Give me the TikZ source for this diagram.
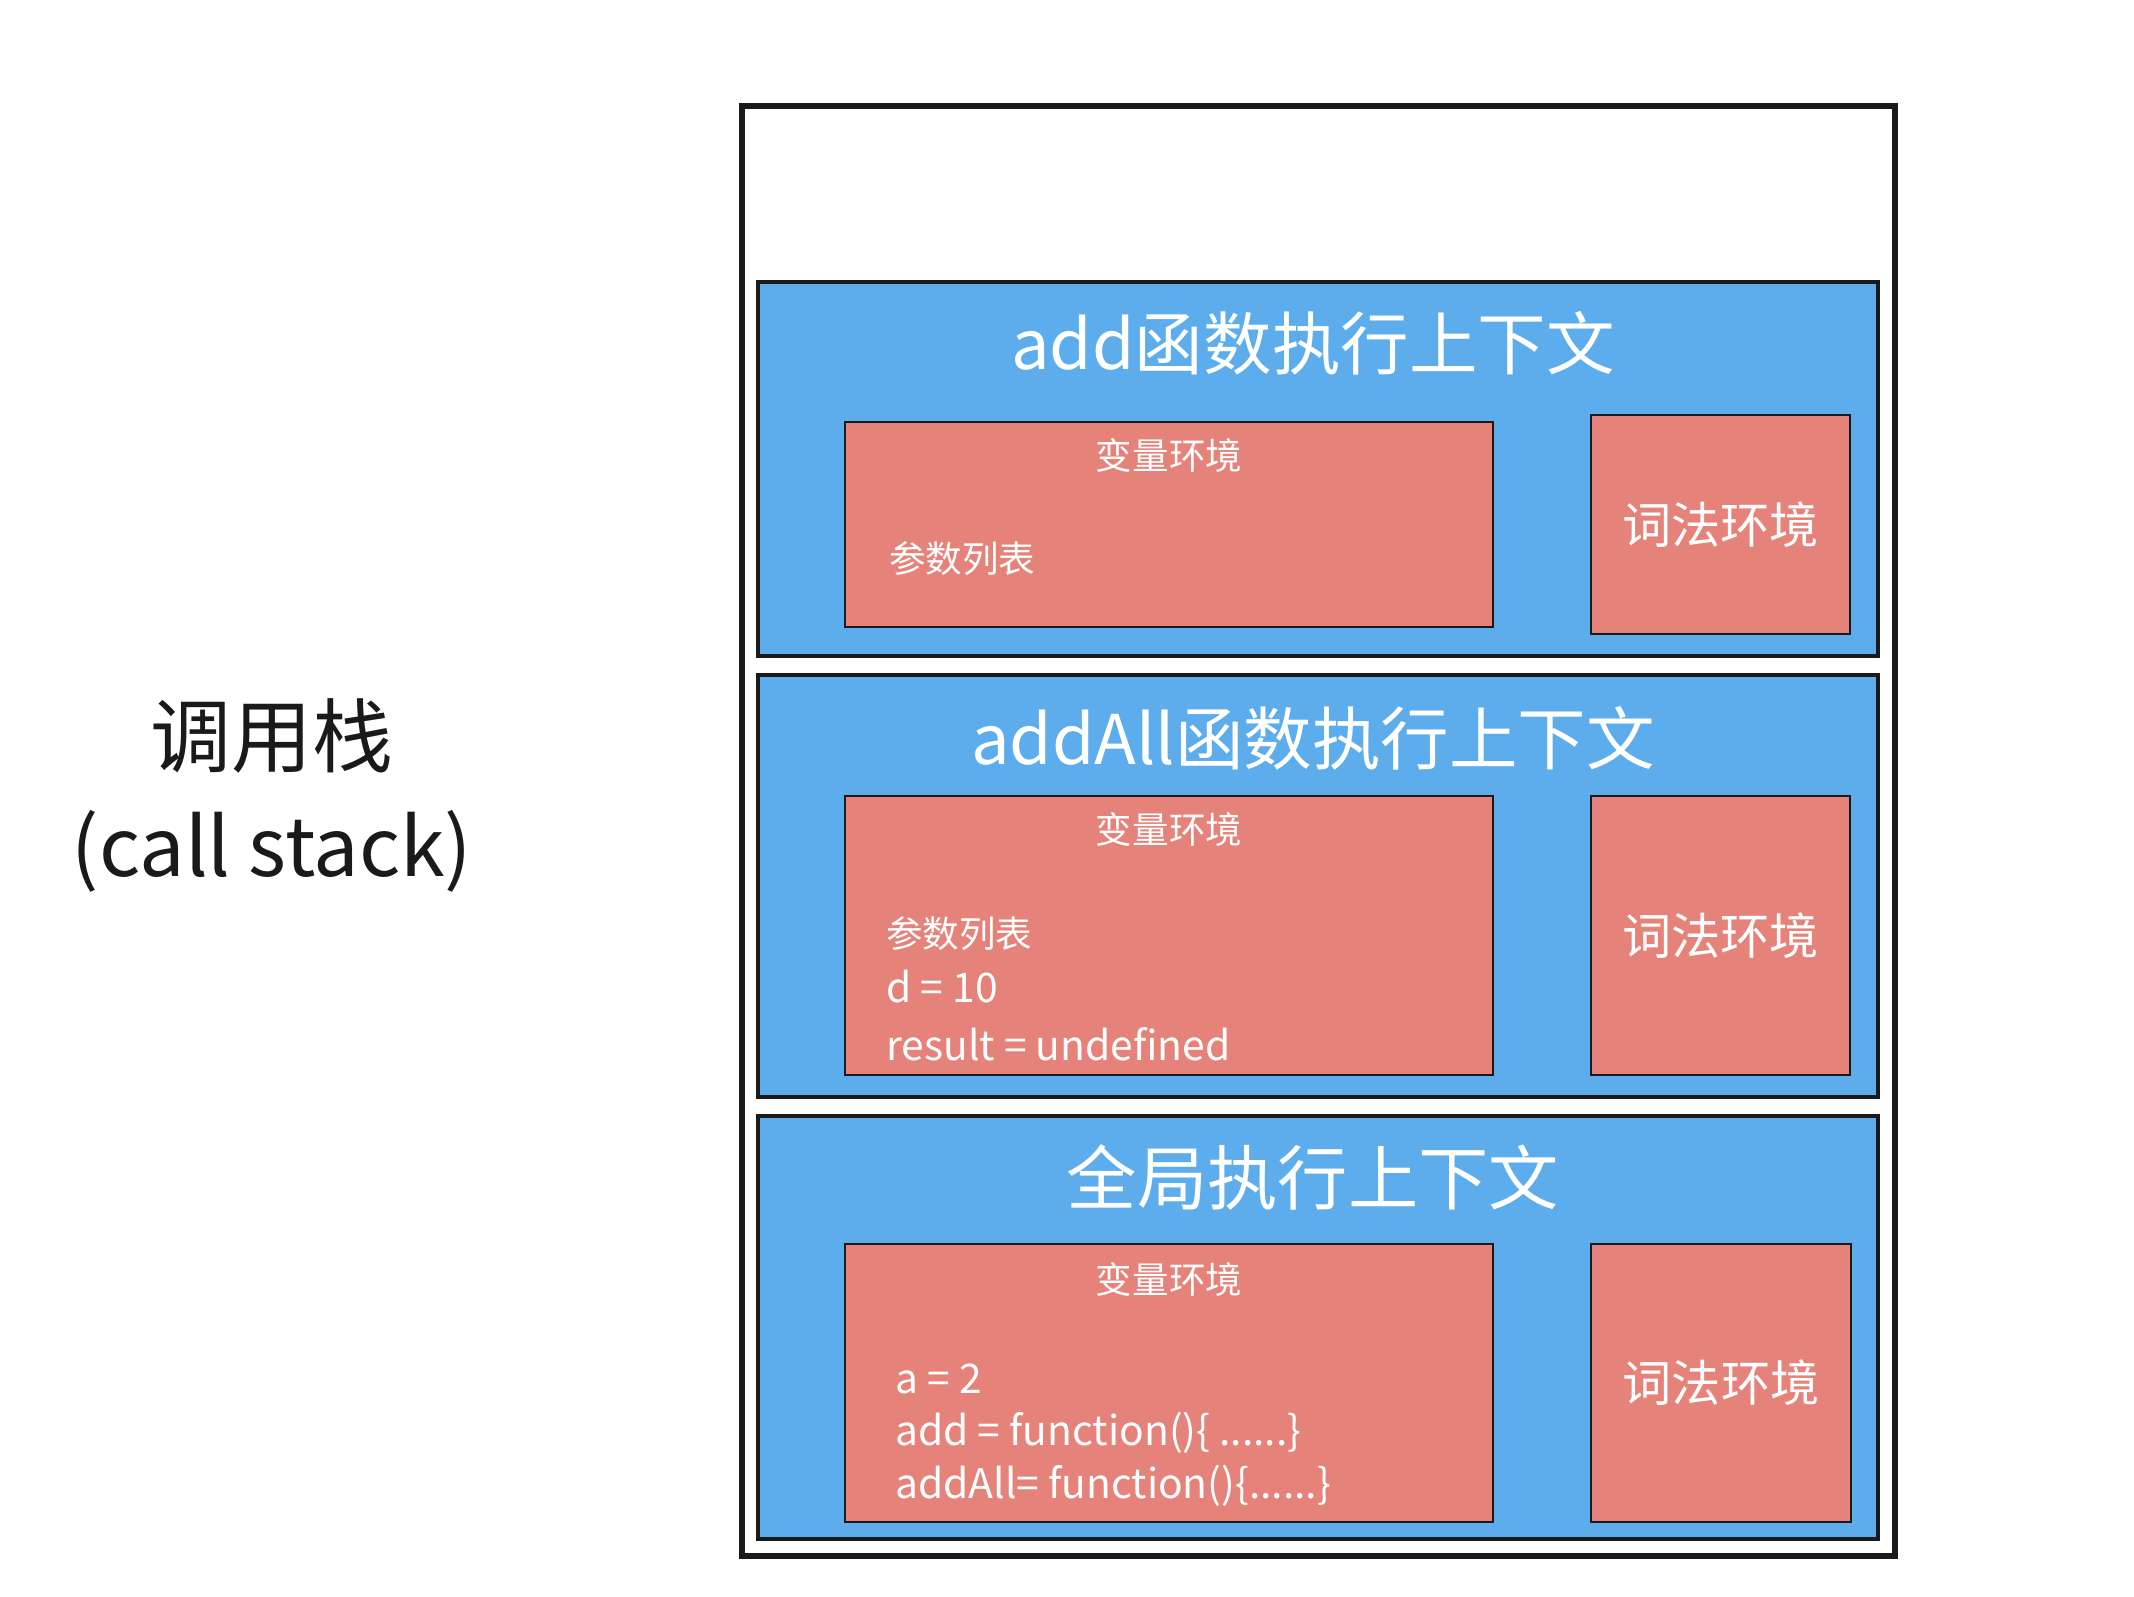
\documentclass[tikz,border=0pt]{standalone}
\usepackage{fontspec}
\setmainfont{Noto Sans CJK SC}
\usepackage{xcolor}
\usepackage{tikz}
\usetikzlibrary{positioning}
\definecolor{ctxblue}{HTML}{5DADEC}
\definecolor{envred}{HTML}{E5837A}
\definecolor{ink}{HTML}{1A1A1A}
\tikzset{
  stackbox/.style = {draw=ink, line width=1.5pt, fill=white, inner sep=0pt},
  ctx/.style      = {draw=ink, line width=1.1pt, fill=ctxblue, inner sep=0pt},
  env/.style      = {draw=ink, line width=0.8pt, fill=envred, inner sep=0pt},
  ctxtitle/.style = {text=white, font=\fontsize{19.5}{22}\selectfont, inner sep=1pt},
  envtitle/.style = {text=white, font=\fontsize{10.4}{12}\selectfont, inner sep=1pt},
  lextitle/.style = {text=white, font=\fontsize{14}{16}\selectfont, inner sep=1pt},
  vartext/.style  = {text=white, font=\fontsize{11.6}{14}\selectfont, anchor=west, inner sep=1pt},
  side/.style     = {text=ink, align=center, inner sep=1pt},
}

\begin{document}
\begin{tikzpicture}

\useasboundingbox (0,0) rectangle (213.4mm,-159.6mm);

% ---- left caption -----------------------------------------------------
\node[side, font=\fontsize{23}{26}\selectfont] at (27.2mm,-73.6mm) (cap) {调用栈};
\node[side, font=\fontsize{23}{26}\selectfont] at (27.2mm,-85.1mm) (capen) {(call stack)};

% ---- the stack --------------------------------------------------------
\node[stackbox, minimum width=115.3mm, minimum height=145mm] at (131.85mm,-83.1mm) (stack) {};

% ---- add frame (top) --------------------------------------------------
\node[ctx, minimum width=112mm, minimum height=37.4mm] at (131.8mm,-46.9mm) (ctxadd) {};
\node[ctxtitle] at (131.3mm,-34.3mm) (addT) {add函数执行上下文};
\node[env, minimum width=64.8mm, minimum height=20.5mm] at (116.9mm,-52.45mm) (addvar) {};
\node[env, minimum width=25.9mm, minimum height=21.9mm] at (172.05mm,-52.45mm) (addlex) {};
\node[envtitle] at (116.9mm,-45.5mm) (addvarT) {变量环境};
\node[vartext, font=\fontsize{10.4}{12}\selectfont] at (88.5mm,-55.9mm) (addargs) {参数列表};
\node[lextitle] at (addlex) (addlexT) {词法环境};

% ---- addAll frame -----------------------------------------------------
\node[ctx, minimum width=112mm, minimum height=42.2mm] at (131.8mm,-88.6mm) (ctxall) {};
\node[ctxtitle] at (131.3mm,-73.8mm) (allT) {addAll函数执行上下文};
\node[env, minimum width=64.8mm, minimum height=27.9mm] at (116.9mm,-93.55mm) (allvar) {};
\node[env, minimum width=25.9mm, minimum height=27.9mm] at (172.05mm,-93.55mm) (alllex) {};
\node[envtitle] at (116.9mm,-82.9mm) (allvarT) {变量环境};
\node[vartext, font=\fontsize{10.4}{12}\selectfont] at (88.2mm,-93.4mm) (allargs) {参数列表};
\node[vartext] at (88.2mm,-98.7mm) (alld) {d = 10};
\node[vartext] at (88.2mm,-104.4mm) (allres) {result = undefined};
\node[lextitle] at (alllex) (alllexT) {词法环境};

% ---- global frame (bottom) --------------------------------------------
\node[ctx, minimum width=112mm, minimum height=42.3mm] at (131.8mm,-132.75mm) (ctxglobal) {};
\node[ctxtitle, font=\fontsize{20}{23}\selectfont] at (131.3mm,-117.7mm) (globT) {全局执行上下文};
\node[env, minimum width=64.8mm, minimum height=27.8mm] at (116.9mm,-138.3mm) (globvar) {};
\node[env, minimum width=26mm, minimum height=27.8mm] at (172.1mm,-138.3mm) (globlex) {};
\node[envtitle] at (116.9mm,-127.9mm) (globvarT) {变量环境};
\node[vartext] at (89.1mm,-137.9mm) (globa) {a = 2};
\node[vartext] at (89.1mm,-143.3mm) (globadd) {add = function()\{ ......\}};
\node[vartext] at (89.1mm,-148.6mm) (globall) {addAll= function()\{......\}};
\node[lextitle] at (globlex) (globlexT) {词法环境};

\end{tikzpicture}
\end{document}
